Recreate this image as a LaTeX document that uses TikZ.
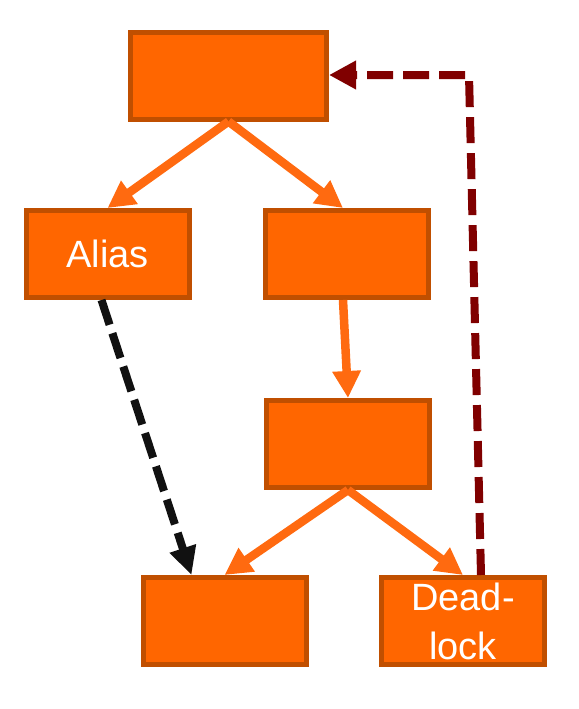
\documentclass[tikz,border=0pt]{standalone}
\usepackage{fontspec}
\setmainfont{Liberation Sans}
\usetikzlibrary{arrows.meta}
\definecolor{boxfill}{HTML}{FF6600}
\definecolor{boxline}{HTML}{C04F00}
\definecolor{arrorange}{HTML}{FF6A10}
\definecolor{darkred}{HTML}{800000}
\definecolor{nearblack}{HTML}{111111}
\tikzset{
  box/.style={draw=boxline, fill=boxfill, line width=5pt, minimum width=163pt, minimum height=87pt,
    inner sep=0pt, text=white, font=\fontsize{38}{49}\selectfont, align=center},
  orangearrow/.style={draw=arrorange, line width=8.5pt, -{Triangle[length=27pt,width=27pt]}},
  blackdash/.style={draw=nearblack, line width=8pt, dash pattern=on 26pt off 9pt, -{Triangle[length=28pt,width=26pt]}},
  reddash/.style={draw=darkred, line width=8pt, dash pattern=on 26pt off 10pt, -{Triangle[length=27pt,width=27pt]}},
}
\begin{document}
\begin{tikzpicture}[x=1pt,y=-1pt]
\useasboundingbox (0,0) rectangle (578,709);
\node[box, minimum width=196pt, minimum height=86pt] (top) at (228.5,76) {};
\node[box] (alias) at (107.5,254) {Alias};
\node[box] (right) at (347,254) {};
\node[box] (mid) at (348,444) {};
\node[box] (bl) at (224.5,621) {};
\node[box] (dl) at (463,621) {Dead-\\lock};
\coordinate (corner) at (469,75);
\draw[orangearrow] (top.south) -- (alias.north);
\draw[orangearrow] (top.south) -- ([xshift=-4pt]right.north);
\draw[orangearrow] ([xshift=-4pt]right.south) -- (mid.north);
\draw[orangearrow] (mid.south) -- (bl.north);
\draw[orangearrow] (mid.south) -- (dl.north);
\draw[blackdash] ([xshift=-6pt]alias.south) -- ([xshift=-33pt]bl.north);
\draw[reddash] ([xshift=18pt]dl.north) -- (corner) -- (top.east |- corner);
\end{tikzpicture}
\end{document}
